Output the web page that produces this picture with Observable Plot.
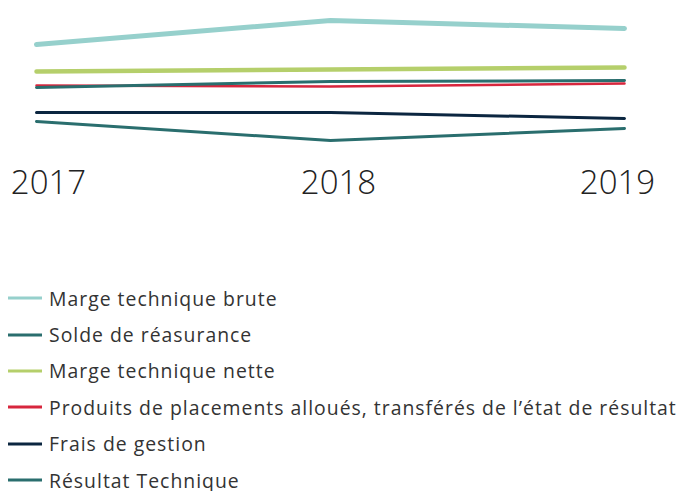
<!DOCTYPE html>
<html>
<head>
<meta charset="utf-8">
<script src="https://cdn.jsdelivr.net/npm/d3@7"></script>
<script src="https://cdn.jsdelivr.net/npm/@observablehq/plot@0.6"></script>
<style>
  html, body { margin: 0; padding: 0; background: #fff; overflow: hidden; }
  body { width: 689px; height: 491px; font-family: "Open Sans", Lato, sans-serif; }
  #chart svg text { font-weight: 300; }
  #legend { margin-top: 50px; }
  .item { display: flex; align-items: center; height: 36.4px; font-family: "Open Sans", sans-serif; font-size: 19.4px; letter-spacing: 1px; color: #333; white-space: nowrap; }
  .item svg { margin-left: 8px; margin-right: 7px; flex: none; }
</style>
</head>
<body>
<div id="chart"></div>
<div id="legend"></div>
<script>
const years = ["2017", "2018", "2019"];
const seriesNames = [
  "Marge technique brute",
  "Solde de réasurance",
  "Marge technique nette",
  "Produits de placements alloués, transférés de l’état de résultat",
  "Frais de gestion",
  "Résultat Technique"
];
const margeBrute = [106, 130, 122];
const soldeReassurance = [63, 69, 70];
const margeNette = [79, 81, 83];
const produitsPlacements = [65, 64, 67];
const fraisGestion = [38, 38, 32];
const resultatTechnique = [29, 10, 22];
const colors = ["#96d0cc", "#2a6e6e", "#b5cf6b", "#d7263d", "#0b2640", "#2a6e6e"];
const widths = [5, 3, 4.5, 2.5, 3, 3];

const allValues = [margeBrute, soldeReassurance, margeNette, produitsPlacements, fraisGestion, resultatTechnique];
const rows = i => years.map((y, j) => ({year: y, value: allValues[i][j], series: seriesNames[i]}));
const drawOrder = [0, 2, 3, 1, 4, 5];
const labelShift = [12, 8, -7];

const chart = Plot.plot({
  width: 689,
  height: 230,
  marginTop: 0,
  marginBottom: 80,
  marginLeft: 36,
  marginRight: 65,
  style: {fontFamily: "'Open Sans', Lato, sans-serif", fontSize: "33px", color: "#222"},
  x: {type: "point", domain: years, padding: 0, axis: null},
  y: {domain: [0, 150], axis: null},
  marks: [
    ...drawOrder.map(i => Plot.line(rows(i), {x: "year", y: "value", stroke: colors[i], strokeWidth: widths[i]})),
    ...years.map((yr, j) => Plot.text([yr], {x: d => d, frameAnchor: "bottom", dy: 43, dx: labelShift[j], text: d => d, fontSize: 33, fill: "#222", lineAnchor: "bottom"}))
  ]
});
document.getElementById("chart").appendChild(chart);

const legend = document.getElementById("legend");
seriesNames.forEach((name, i) => {
  const div = document.createElement("div");
  div.className = "item";
  div.innerHTML = `<svg width="34" height="6"><line x1="0" x2="34" y1="3" y2="3" stroke="${colors[i]}" stroke-width="3"/></svg><span>${name}</span>`;
  legend.appendChild(div);
});
</script>
</body>
</html>
